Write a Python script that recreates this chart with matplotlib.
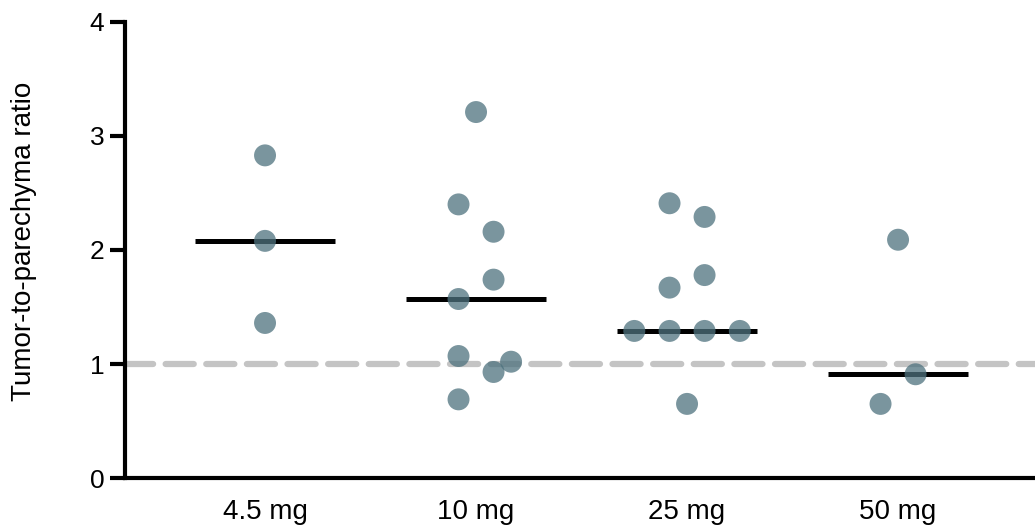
import matplotlib
matplotlib.use('Agg')
import matplotlib.pyplot as plt

plt.rcParams['font.family'] = ['Liberation Sans', 'DejaVu Sans']

# =============================================================================
# Tumor-to-parenchyma ratio by dose
# =============================================================================

GROUPS = ['4.5 mg', '10 mg', '25 mg', '50 mg']

# values per group, with the horizontal offset of each dot inside the column
VALUES_45 = [2.83, 2.08, 1.36]
OFFSETS_45 = [0.0, 0.0, 0.0]
VALUES_10 = [3.21, 2.40, 2.16, 1.74, 1.57, 1.07, 1.02, 0.93, 0.69]
OFFSETS_10 = [0.0, -0.083, 0.083, 0.083, -0.083, -0.083, 0.166, 0.083, -0.083]
VALUES_25 = [2.41, 2.29, 1.78, 1.67, 1.29, 1.29, 1.29, 1.29, 0.65]
OFFSETS_25 = [-0.083, 0.083, 0.083, -0.083, -0.25, -0.083, 0.083, 0.25, 0.0]
VALUES_50 = [2.09, 0.91, 0.65]
OFFSETS_50 = [0.0, 0.083, -0.083]

MEDIANS = [2.08, 1.57, 1.29, 0.91]
REFERENCE = 1.0

DOT = '#4e727e'

fig = plt.figure(figsize=(10.35, 5.31), dpi=100)
ax = fig.add_axes([0.1208, 0.0998, 0.8792, 0.8588])

ax.axhline(REFERENCE, color='#c4c4c4', linewidth=4.5,
           dashes=(4.5, 2.0), dash_capstyle='round', zorder=1)

groups = [(VALUES_45, OFFSETS_45), (VALUES_10, OFFSETS_10),
          (VALUES_25, OFFSETS_25), (VALUES_50, OFFSETS_50)]
for i, (vals, offs) in enumerate(groups):
    ax.hlines(MEDIANS[i], i - 0.33, i + 0.33, color='black',
              linewidth=3.6, zorder=2)
    ax.scatter([i + o for o in offs], vals, s=250, color=DOT,
               alpha=0.75, edgecolors='none', zorder=3)

ax.set_xlim(-0.6635, 3.649)
ax.set_ylim(0, 4)
ax.set_yticks([0, 1, 2, 3, 4])
ax.set_xticks(range(len(GROUPS)))
ax.set_xticklabels(GROUPS)
ax.set_ylabel('Tumor-to-parechyma ratio', fontsize=20)
ax.yaxis.set_label_coords(-0.0967, 0.519)

for side in ('top', 'right'):
    ax.spines[side].set_visible(False)
for side in ('left', 'bottom'):
    ax.spines[side].set_linewidth(3)
ax.tick_params(axis='y', length=11, width=3, labelsize=19, pad=4)
ax.tick_params(axis='x', length=0, labelsize=20, pad=15)

fig.savefig('out.png', dpi=100)
